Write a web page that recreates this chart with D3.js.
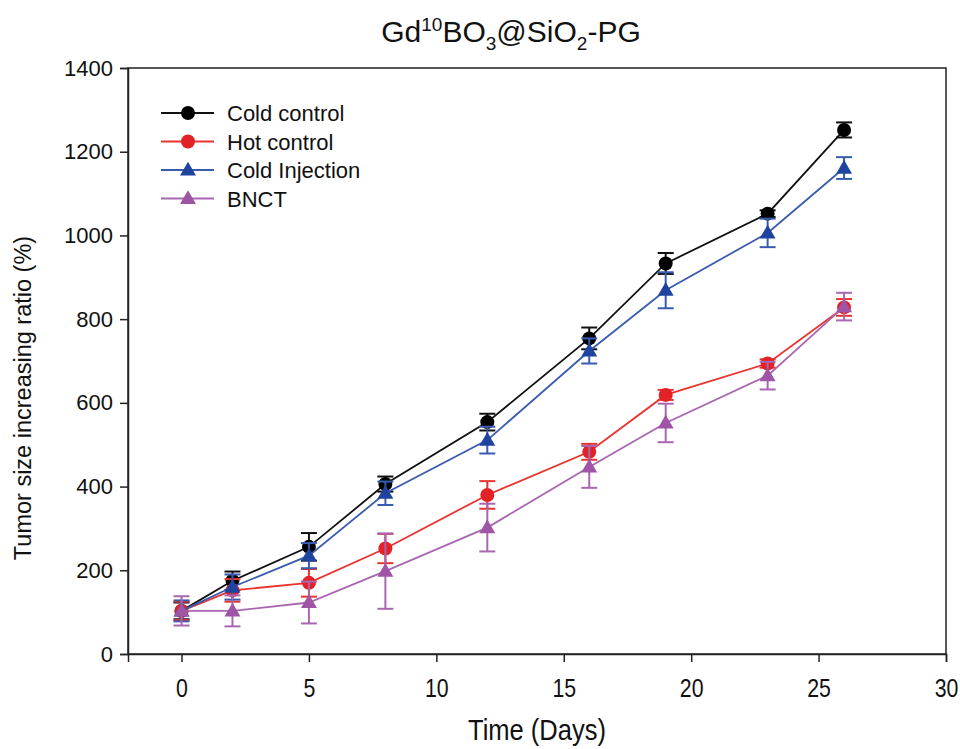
<!DOCTYPE html>
<html>
<head>
<meta charset="utf-8">
<script src="https://cdn.jsdelivr.net/npm/d3@7"></script>
<style>
  body { margin: 0; background: #fff; }
  svg { font-family: "Liberation Sans", Arial, sans-serif; }
</style>
</head>
<body>
<svg id="chart" width="960" height="749"></svg>
<script>
// values
const days = [0, 2, 5, 8, 12, 16, 19, 23, 26]
const coldControl = [103, 175, 256, 406, 554, 754, 933, 1052, 1252]
const coldControlErr = [20, 22, 33, 18, 20, 26, 25, 8, 18]
const hotControl = [103, 152, 170, 252, 380, 483, 619, 694, 828]
const hotControlErr = [22, 27, 33, 35, 33, 19, 12, 10, 20]
const coldInjection = [103, 160, 235, 384, 511, 724, 869, 1006, 1161]
const coldInjectionErr = [25, 30, 30, 28, 32, 30, 43, 34, 26]
const bnct = [103, 103, 123, 198, 302, 447, 552, 665, 830]
const bnctErr = [35, 37, 50, 90, 57, 50, 46, 33, 33]
const xTicks = [0, 5, 10, 15, 20, 25, 30]
const yTicks = [0, 200, 400, 600, 800, 1000, 1200, 1400]

const seriesList = [
  { name: 'Cold control', values: coldControl, errors: coldControlErr, line: '#111111', fill: '#000000', shape: 'circle' },
  { name: 'Hot control', values: hotControl, errors: hotControlErr, line: '#e8332e', fill: '#e32227', shape: 'circle' },
  { name: 'Cold Injection', values: coldInjection, errors: coldInjectionErr, line: '#3a5cb0', fill: '#1f44a0', shape: 'triangle' },
  { name: 'BNCT', values: bnct, errors: bnctErr, line: '#a867b0', fill: '#a054a6', shape: 'triangle' }
]

const svg = d3.select('#chart')
const plot = { left: 128, right: 946, top: 68, bottom: 654 }

const x = d3.scaleLinear().domain([-2.1, 30]).range([plot.left, plot.right])
const y = d3.scaleLinear().domain([0, 1400]).range([plot.bottom, plot.top])

// frame
svg.append('rect')
  .attr('x', plot.left)
  .attr('y', plot.top)
  .attr('width', plot.right - plot.left)
  .attr('height', plot.bottom - plot.top)
  .attr('fill', 'none')
  .attr('stroke', '#222')
  .attr('stroke-width', 1.5)

// axes
const yAxis = svg.append('g')
  .attr('transform', `translate(${plot.left},0)`)
  .call(d3.axisLeft(y).tickValues(yTicks).tickSize(8).tickPadding(7).tickFormat(d3.format('d')))
yAxis.select('.domain').attr('stroke', '#222').attr('stroke-width', 1.5)
yAxis.selectAll('.tick line').attr('stroke', '#222').attr('stroke-width', 1.5)
yAxis.selectAll('.tick text')
  .attr('font-size', 22)
  .attr('fill', '#111')
  .attr('font-family', '"Liberation Sans", Arial, sans-serif')

const xAxis = svg.append('g')
  .attr('transform', `translate(0,${plot.bottom})`)
  .call(d3.axisBottom(x).tickValues(xTicks).tickSize(8).tickPadding(0).tickFormat(d3.format('d')))
xAxis.select('.domain').attr('stroke', '#222').attr('stroke-width', 1.5)
xAxis.selectAll('.tick line').attr('stroke', '#222').attr('stroke-width', 1.5)
xAxis.selectAll('.tick text')
  .attr('font-size', 26)
  .attr('fill', '#111')
  .attr('font-family', '"Liberation Sans", Arial, sans-serif')
  .attr('dy', null)
  .attr('y', 0)
  .attr('transform', 'translate(0,43) scale(0.82,1)')

// series
const capHalf = 8
const triangle = d3.symbol().type(d3.symbolTriangle).size(110)

seriesList.forEach(function (s) {
  const g = svg.append('g').attr('class', 'series')
  const points = days.map((d, i) => ({ day: d, value: s.values[i], err: s.errors[i] }))

  const bars = g.selectAll('g.err').data(points).enter().append('g').attr('class', 'err')
    .attr('stroke', s.line)
    .attr('stroke-width', 2)
  bars.append('line')
    .attr('x1', d => x(d.day)).attr('x2', d => x(d.day))
    .attr('y1', d => y(d.value - d.err)).attr('y2', d => y(d.value + d.err))
  bars.append('line')
    .attr('x1', d => x(d.day) - capHalf).attr('x2', d => x(d.day) + capHalf)
    .attr('y1', d => y(d.value + d.err)).attr('y2', d => y(d.value + d.err))
  bars.append('line')
    .attr('x1', d => x(d.day) - capHalf).attr('x2', d => x(d.day) + capHalf)
    .attr('y1', d => y(d.value - d.err)).attr('y2', d => y(d.value - d.err))

  g.append('path')
    .datum(points)
    .attr('fill', 'none')
    .attr('stroke', s.line)
    .attr('stroke-width', 1.8)
    .attr('d', d3.line().x(d => x(d.day)).y(d => y(d.value)))

  if (s.shape === 'circle') {
    g.selectAll('circle').data(points).enter().append('circle')
      .attr('cx', d => x(d.day))
      .attr('cy', d => y(d.value))
      .attr('r', 7)
      .attr('fill', s.fill)
  } else {
    g.selectAll('path.mark').data(points).enter().append('path')
      .attr('class', 'mark')
      .attr('d', triangle)
      .attr('transform', d => `translate(${x(d.day)},${y(d.value) + 1})`)
      .attr('fill', s.fill)
  }
})

// legend
const legend = svg.append('g').attr('transform', 'translate(161,113)')
seriesList.forEach(function (s, i) {
  const row = legend.append('g').attr('transform', `translate(0,${i * 28.5})`)
  row.append('line')
    .attr('x1', 0).attr('x2', 53)
    .attr('y1', 0).attr('y2', 0)
    .attr('stroke', s.line)
    .attr('stroke-width', 1.8)
  if (s.shape === 'circle') {
    row.append('circle').attr('cx', 27).attr('cy', 0).attr('r', 7).attr('fill', s.fill)
  } else {
    row.append('path').attr('d', triangle).attr('transform', 'translate(27,1)').attr('fill', s.fill)
  }
  row.append('text')
    .attr('x', 66)
    .attr('y', 8)
    .attr('font-size', 22)
    .attr('fill', '#111')
    .text(s.name)
})

// title
const title = svg.append('text')
  .attr('x', 511)
  .attr('y', 42)
  .attr('text-anchor', 'middle')
  .attr('font-size', 30)
  .attr('fill', '#111')
title.append('tspan').text('Gd')
title.append('tspan').attr('font-size', 19).attr('dy', -11).text('10')
title.append('tspan').attr('dy', 11).text('BO')
title.append('tspan').attr('font-size', 19).attr('dy', 8).text('3')
title.append('tspan').attr('dy', -8).text('@SiO')
title.append('tspan').attr('font-size', 19).attr('dy', 8).text('2')
title.append('tspan').attr('dy', -8).text('-PG')

// axis titles
svg.append('text')
  .attr('transform', `translate(${(plot.left + plot.right) / 2},740) scale(0.88,1)`)
  .attr('text-anchor', 'middle')
  .attr('font-size', 29)
  .attr('fill', '#111')
  .text('Time (Days)')

svg.append('text')
  .attr('transform', `translate(31,${(plot.top + plot.bottom) / 2 + 37}) rotate(-90)`)
  .attr('text-anchor', 'middle')
  .attr('font-size', 23.5)
  .attr('fill', '#111')
  .text('Tumor size increasing ratio (%)')
</script>
</body>
</html>
